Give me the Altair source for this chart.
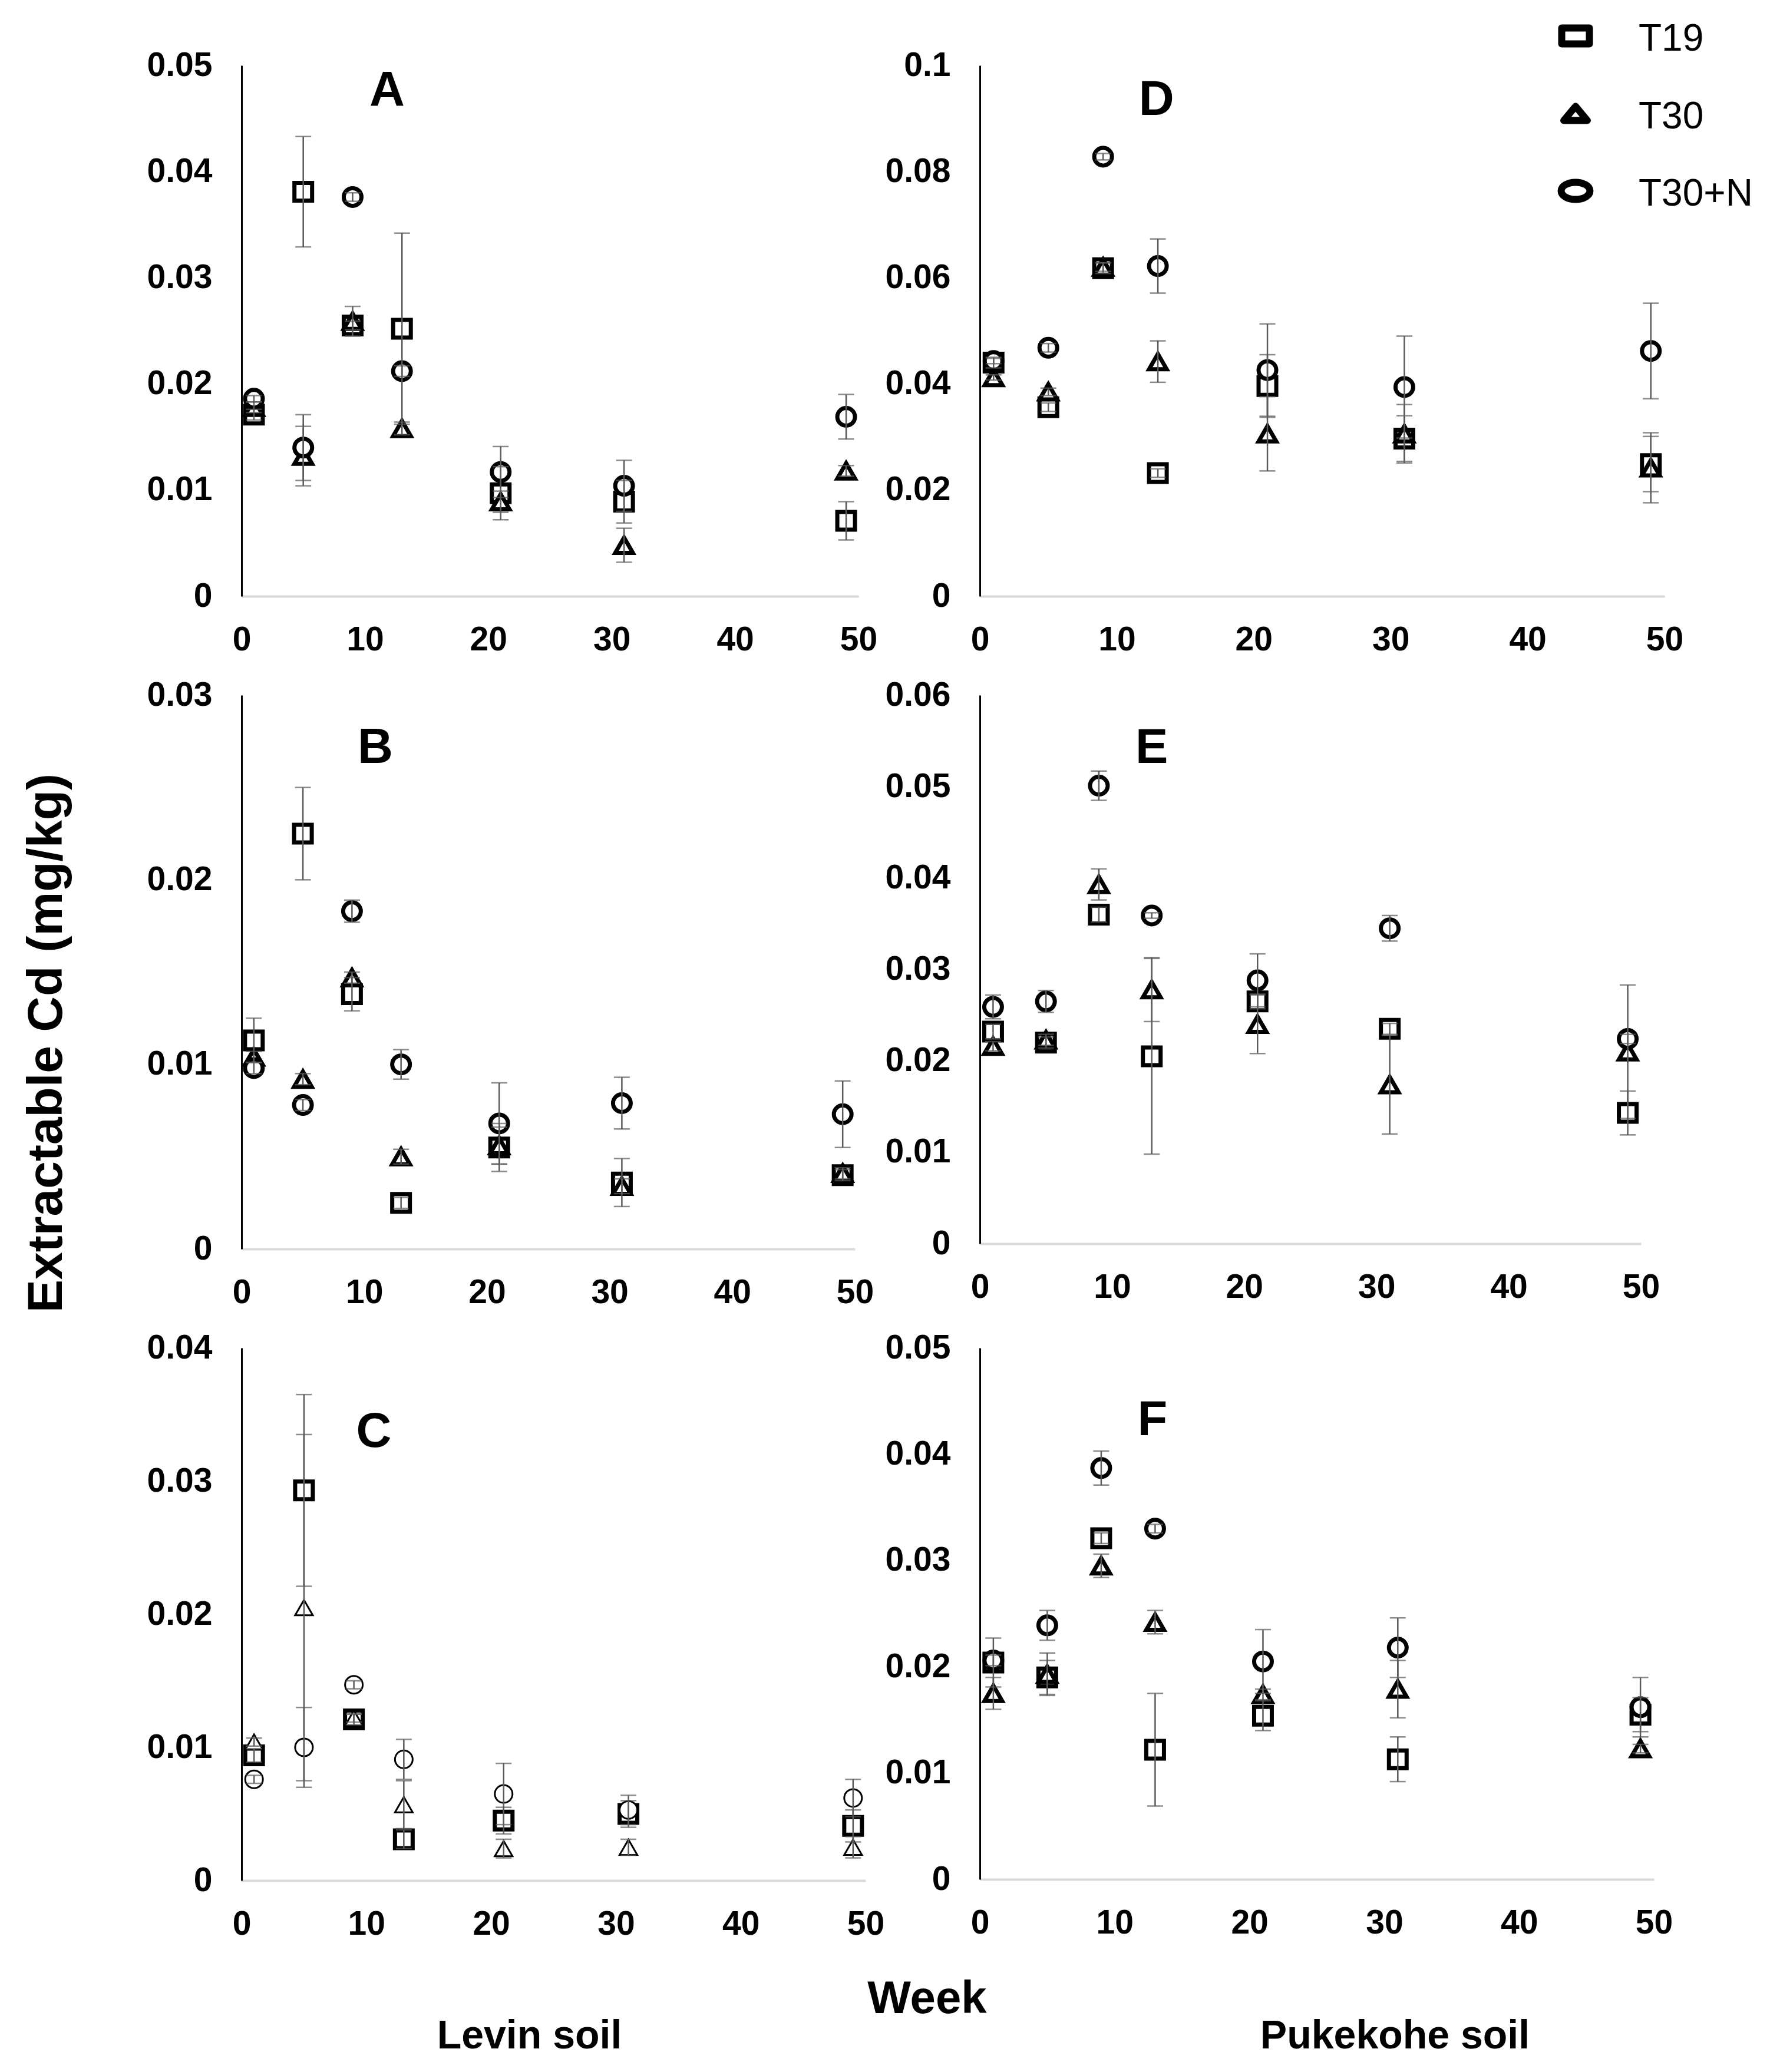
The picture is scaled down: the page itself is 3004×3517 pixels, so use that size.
import altair as alt
import pandas as pd

# ---------------- data ----------------
weeks = [1, 5, 9, 13, 21, 31, 49]
series_names = ["T19", "T30", "T30+N"]
x_ticks = [0, 10, 20, 30, 40, 50]

# Panel A (Levin soil)
A_T19 = [0.0171, 0.0381, 0.0255, 0.0252, 0.0097, 0.0089, 0.0071]
A_T19_err = [0.0005, 0.0052, 0.0004, 0.0090, 0.0025, 0.0020, 0.0018]
A_T30 = [0.0178, 0.0132, 0.0259, 0.0158, 0.0089, 0.0048, 0.0118]
A_T30_err = [0.0005, 0.0028, 0.0014, 0.0006, 0.0010, 0.0016, 0.0005]
A_T30N = [0.0186, 0.0140, 0.0376, 0.0212, 0.0117, 0.0104, 0.0169]
A_T30N_err = [0.0003, 0.0031, 0.0004, 0.0005, 0.0024, 0.0024, 0.0021]

# Panel B (Levin soil)
B_T19 = [0.0113, 0.0225, 0.0138, 0.0025, 0.0055, 0.0036, 0.0040]
B_T19_err = [0.0012, 0.0025, 0.0009, 0.0003, 0.0013, 0.0013, 0.0003]
B_T30 = [0.0104, 0.0092, 0.0147, 0.0050, 0.0056, 0.0034, 0.0041]
B_T30_err = [0.0003, 0.0003, 0.0003, 0.0004, 0.0010, 0.0004, 0.0003]
B_T30N = [0.0098, 0.0078, 0.0183, 0.0100, 0.0068, 0.0079, 0.0073]
B_T30N_err = [0.0003, 0.0003, 0.0006, 0.0008, 0.0022, 0.0014, 0.0018]

# Panel C (Levin soil)
C_T19 = [0.0094, 0.0293, 0.0121, 0.0031, 0.0045, 0.0050, 0.0041]
C_T19_err = [0.0005, 0.0072, 0.0004, 0.0007, 0.0010, 0.0010, 0.0012]
C_T30 = [0.0104, 0.0205, 0.0122, 0.0057, 0.0024, 0.0025, 0.0025]
C_T30_err = [0.0003, 0.0130, 0.0003, 0.0018, 0.0007, 0.0006, 0.0008]
C_T30N = [0.0076, 0.0100, 0.0147, 0.0091, 0.0065, 0.0053, 0.0062]
C_T30N_err = [0.0003, 0.0030, 0.0003, 0.0015, 0.0023, 0.0011, 0.0014]

# Panel D (Pukekohe soil)
D_T19 = [0.0440, 0.0356, 0.0618, 0.0232, 0.0396, 0.0297, 0.0249]
D_T19_err = [0.0010, 0.0008, 0.0010, 0.0008, 0.0059, 0.0043, 0.0052]
D_T30 = [0.0412, 0.0385, 0.0620, 0.0442, 0.0306, 0.0306, 0.0242]
D_T30_err = [0.0005, 0.0007, 0.0008, 0.0039, 0.0070, 0.0055, 0.0066]
D_T30N = [0.0443, 0.0468, 0.0828, 0.0622, 0.0426, 0.0394, 0.0462]
D_T30N_err = [0.0005, 0.0008, 0.0006, 0.0051, 0.0087, 0.0096, 0.0090]

# Panel E (Pukekohe soil)
E_T19 = [0.0232, 0.0220, 0.0360, 0.0205, 0.0265, 0.0235, 0.0143]
E_T19_err = [0.0008, 0.0006, 0.0008, 0.0107, 0.0008, 0.0006, 0.0024]
E_T30 = [0.0216, 0.0223, 0.0393, 0.0278, 0.0240, 0.0174, 0.0210]
E_T30_err = [0.0005, 0.0006, 0.0017, 0.0035, 0.0032, 0.0054, 0.0073]
E_T30N = [0.0259, 0.0265, 0.0501, 0.0359, 0.0288, 0.0345, 0.0224]
E_T30N_err = [0.0013, 0.0012, 0.0016, 0.0003, 0.0029, 0.0014, 0.0005]

# Panel F (Pukekohe soil)
F_T19 = [0.0204, 0.0190, 0.0321, 0.0122, 0.0154, 0.0113, 0.0155]
F_T19_err = [0.0023, 0.0016, 0.0005, 0.0053, 0.0014, 0.0021, 0.0016]
F_T30 = [0.0175, 0.0193, 0.0295, 0.0242, 0.0174, 0.0179, 0.0123]
F_T30_err = [0.0015, 0.0020, 0.0011, 0.0011, 0.0005, 0.0027, 0.0004]
F_T30N = [0.0206, 0.0239, 0.0387, 0.0330, 0.0205, 0.0218, 0.0162]
F_T30N_err = [0.0005, 0.0014, 0.0016, 0.0004, 0.0030, 0.0028, 0.0028]

PANEL_DATA = {
    "A": ([A_T19, A_T30, A_T30N], [A_T19_err, A_T30_err, A_T30N_err]),
    "B": ([B_T19, B_T30, B_T30N], [B_T19_err, B_T30_err, B_T30N_err]),
    "C": ([C_T19, C_T30, C_T30N], [C_T19_err, C_T30_err, C_T30N_err]),
    "D": ([D_T19, D_T30, D_T30N], [D_T19_err, D_T30_err, D_T30N_err]),
    "E": ([E_T19, E_T30, E_T30N], [E_T19_err, E_T30_err, E_T30N_err]),
    "F": ([F_T19, F_T30, F_T30N], [F_T19_err, F_T30_err, F_T30N_err]),
}

# ---------------- layout / style ----------------
LAYOUT = {
    "A": dict(ymax=0.05, step=0.01, width=1047, height=901, lab_week=11.8, lab_frac=0.951),
    "B": dict(ymax=0.03, step=0.01, width=1041, height=940, lab_week=10.9, lab_frac=0.904),
    "C": dict(ymax=0.04, step=0.01, width=1059, height=904, lab_week=10.6, lab_frac=0.842),
    "D": dict(ymax=0.10, step=0.02, width=1162, height=901, lab_week=12.9, lab_frac=0.935),
    "E": dict(ymax=0.06, step=0.01, width=1122, height=931, lab_week=13.0, lab_frac=0.903),
    "F": dict(ymax=0.05, step=0.01, width=1144, height=902, lab_week=12.8, lab_frac=0.864),
}
# panel C draws its triangles / circles with thin outlines
THIN = {"C": ["T30", "T30+N"]}

FONT = "Liberation Sans"
EB_COLOR = "#5a5a5a"

shape_scale = alt.Scale(domain=series_names, range=["square", "triangle-up", "circle"])

# legend key shapes (wide rectangle, flat triangle, ellipse as in the original)
LEGEND_SHAPES = [
    "M-1,-0.574L1,-0.574L1,0.574L-1,0.574Z",
    "M0,-0.51L0.85,0.51L-0.85,0.51Z",
    "M-1.04,0A1.04,0.62 0 1,0 1.04,0A1.04,0.62 0 1,0 -1.04,0Z",
]


def legend_layers():
    ldf = pd.DataFrame({"series": series_names})
    yenc = alt.Y("series:N", axis=None,
                 scale=alt.Scale(domain=series_names, range=[-50, 213], padding=0))
    keys = alt.Chart(ldf).mark_point(filled=False, fill="white", stroke="black",
                                      strokeWidth=12, strokeJoin="round", size=2209,
                                      opacity=1).encode(
        x=alt.value(1011), y=yenc,
        shape=alt.Shape("series:N", legend=None,
                        scale=alt.Scale(domain=series_names, range=LEGEND_SHAPES)))
    texts = alt.Chart(ldf).mark_text(font=FONT, fontSize=64, align="left",
                                     baseline="middle", dy=6, color="black").encode(
        x=alt.value(1118), y=yenc, text="series:N")
    return [keys, texts]


def make_panel(key, y_title=None, x_title=None, week_title=None, with_legend=False):
    L = LAYOUT[key]
    vals, errs = PANEL_DATA[key]
    rows = []
    for s, v, e in zip(series_names, vals, errs):
        for w, vv, ee in zip(weeks, v, e):
            rows.append(dict(week=w, value=vv, err=ee, lo=vv - ee, hi=vv + ee, series=s))
    df = pd.DataFrame(rows)
    edf = df[df["err"] > 0]
    thin = THIN.get(key, [])
    df_thick = df[~df["series"].isin(thin)]
    df_thin = df[df["series"].isin(thin)]

    nt = int(round(L["ymax"] / L["step"]))
    y_ticks = [round(i * L["step"], 4) for i in range(nt + 1)]

    xscale = alt.Scale(domain=[0, 50], nice=False, zero=False)
    yscale = alt.Scale(domain=[0, L["ymax"]], nice=False, zero=True)

    xax_kw = dict(values=x_ticks, orient="bottom")
    if x_title:
        xax_kw.update(title=x_title[0], titleFont=FONT, titleFontSize=68,
                      titleFontWeight="bold", titleColor="black", titleAlign="center",
                      titleBaseline="alphabetic", titleX=x_title[1], titleY=x_title[2])
    yax_kw = dict(values=y_ticks, format="~g")
    if y_title:
        yax_kw.update(title=y_title[0], titleFont=FONT, titleFontSize=84,
                      titleFontWeight="bold", titleColor="black", titleAngle=270,
                      titleAlign="center", titleBaseline="middle",
                      titleX=y_title[1], titleY=y_title[2])

    xaxis = alt.Axis(**xax_kw)
    yaxis = alt.Axis(**yax_kw)

    def X(f="week"):
        if x_title:
            return alt.X(f + ":Q", scale=xscale, axis=xaxis)
        return alt.X(f + ":Q", scale=xscale, axis=xaxis, title=None)

    def Y(f):
        if y_title:
            return alt.Y(f + ":Q", scale=yscale, axis=yaxis)
        return alt.Y(f + ":Q", scale=yscale, axis=yaxis, title=None)

    layers = []
    for d, sw in ((df_thick, 7), (df_thin, 3)):
        if len(d) == 0:
            continue
        layers.append(
            alt.Chart(d).mark_point(filled=False, fill="white", fillOpacity=1,
                                    stroke="black", color="black", size=900,
                                    strokeWidth=sw, opacity=1).encode(
                x=X(), y=Y("value"),
                shape=alt.Shape("series:N", scale=shape_scale, legend=None),
            )
        )
    rule = alt.Chart(edf).mark_rule(color=EB_COLOR, strokeWidth=2.5).encode(
        x=X(), y=Y("lo"), y2="hi:Q")
    cap_lo = alt.Chart(edf).mark_tick(orient="horizontal", size=27, thickness=2.5,
                                      color=EB_COLOR).encode(x=X(), y=Y("lo"))
    cap_hi = alt.Chart(edf).mark_tick(orient="horizontal", size=27, thickness=2.5,
                                      color=EB_COLOR).encode(x=X(), y=Y("hi"))
    lab_df = pd.DataFrame({"t": [key], "week": [L["lab_week"]],
                           "value": [L["ymax"] * L["lab_frac"]]})
    label = alt.Chart(lab_df).mark_text(font=FONT, fontSize=83, fontWeight="bold",
                                        color="black").encode(
        x=X(), y=Y("value"), text="t:N")

    layers += [rule, cap_lo, cap_hi, label]
    chart = alt.layer(*layers)
    if week_title:
        wk = alt.Chart(lab_df).mark_point(opacity=0).encode(
            x=alt.X("week:Q", scale=xscale,
                    axis=alt.Axis(orient="bottom", title="Week", labels=False,
                                  ticks=False, domain=False, grid=False,
                                  titleFont=FONT, titleFontSize=78,
                                  titleFontWeight="bold", titleColor="black",
                                  titleAlign="center", titleBaseline="alphabetic",
                                  titleX=week_title[0], titleY=week_title[1])),
            y=Y("value"))
        chart = alt.layer(chart, wk).resolve_scale(x="independent")
    if with_legend:
        chart = alt.layer(chart, *legend_layers()).resolve_scale(
            y="independent", shape="independent")
    return chart.properties(width=L["width"], height=L["height"])


pA = make_panel("A")
pB = make_panel("B", y_title=("Extractable  Cd (mg/kg)", -331, 590))
pC = make_panel("C", x_title=("Levin soil", 488, 284), week_title=(1163, 224))
pD = make_panel("D", with_legend=True)
pE = make_panel("E")
pF = make_panel("F", x_title=("Pukekohe soil", 704, 286))

chart = alt.concat(pA, pD, pB, pE, pC, pF, columns=2,
                   spacing={"row": 168, "column": 194}, bounds="flush").properties(
    padding={"left": 29, "top": 27, "right": 10, "bottom": 10}
).configure_view(stroke=None).configure_axis(
    labelFont=FONT, labelFontSize=57, labelFontWeight="bold", labelColor="black",
    ticks=False, tickSize=0, grid=False, labelFlush=False, labelOverlap=False,
).configure_axisX(
    domainColor="#d9d9d9", domainWidth=4, labelPadding=46,
).configure_axisY(
    domainColor="black", domainWidth=3, labelPadding=50,
)

chart.save("out.html", embed_options={"renderer": "svg", "actions": False})
